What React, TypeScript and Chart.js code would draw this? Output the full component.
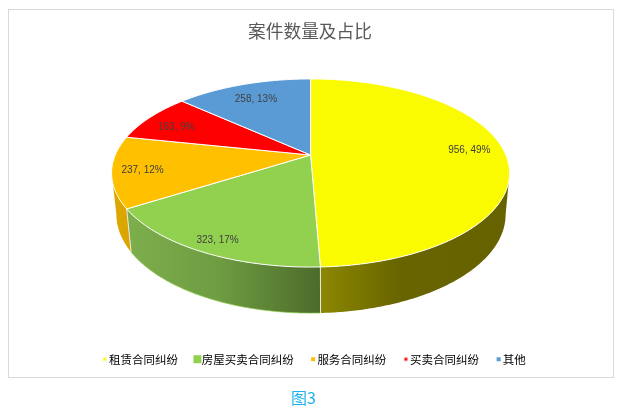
import { useEffect, useRef } from 'react';
import { Chart, registerables } from 'chart.js';

Chart.register(...registerables);

const categories = ['租赁合同纠纷', '房屋买卖合同纠纷', '服务合同纠纷', '买卖合同纠纷', '其他'];
const counts = [956, 323, 237, 163, 258];
const percents = [49, 17, 12, 9, 13];
const colors = ['#FAFA00', '#92D050', '#FFC000', '#FF0000', '#5B9BD5'];
const markerSizes = [3, 8, 4, 3, 4];

// side wall gradients, left to right (x in page px)
const wallStops: any[] = [
  [[320, '#8C8800'], [400, '#686400'], [510, '#666200']],
  [[128, '#7DAE4C'], [220, '#6E9C42'], [320, '#4C6B2A']],
  [[112, '#DDA800'], [132, '#D9A400']],
  [[0, '#B00000'], [1, '#B00000']],
  [[0, '#41719C'], [1, '#41719C']],
];

const labelShift = [[3, -3.5], [-9, 11], [-10, 2], [-4, 2.6], [1, 2]];

// the pie is a true perspective view of a circle
const K = 0.1916;
const top3d = { cx: 310.6, cy: 155, a: 195.3, b: 90.6 };
const bottom3d = { cx: 311, cy: 195.6, a: 191, b: 95 };

// angles where the rim turns away from the viewer, walls only exist between them
const frontStart = Math.acos(-K);
const frontEnd = 2 * Math.PI - frontStart;

const project = (p: any, theta: number, r = 1) => {
  const s = r * Math.sin(theta);
  const c = r * Math.cos(theta);
  const d = 1 + K * c;
  return { x: p.cx + (p.a * s) / d, y: p.cy - (p.b * c) / d };
};

const traceRim = (ctx: any, p: any, t0: number, t1: number) => {
  const steps = Math.max(2, Math.ceil(Math.abs(t1 - t0) / 0.01));
  for (let i = 0; i <= steps; i++) {
    const pt = project(p, t0 + ((t1 - t0) * i) / steps);
    ctx.lineTo(pt.x, pt.y);
  }
};

const pie3d = {
  id: 'pie3d',
  afterLayout(chart: any) {
    // legend sits a little right of the chart centre in the original
    chart.legend.left += 4;
    chart.legend.right += 4;
  },
  beforeDatasetDraw(chart: any) {
    const ctx = chart.ctx;
    const arcs = chart.getDatasetMeta(0).data;
    const spans = arcs.map((arc: any) => [arc.startAngle + Math.PI / 2, arc.endAngle + Math.PI / 2]);

    // walls
    spans.forEach((span: number[], i: number) => {
      const t0 = Math.max(span[0], frontStart);
      const t1 = Math.min(span[1], frontEnd);
      if (t1 <= t0) return;
      const stops = wallStops[i];
      const x0 = stops[0][0];
      const x1 = stops[stops.length - 1][0];
      const grad = ctx.createLinearGradient(x0, 0, x1, 0);
      stops.forEach((st: any) => grad.addColorStop((st[0] - x0) / (x1 - x0), st[1]));
      ctx.beginPath();
      traceRim(ctx, top3d, t0, t1);
      traceRim(ctx, bottom3d, t1, t0);
      ctx.closePath();
      ctx.fillStyle = grad;
      ctx.fill();
    });

    // thin light edge under the green wall
    ctx.beginPath();
    traceRim(ctx, bottom3d, spans[1][0], spans[1][1]);
    ctx.strokeStyle = colors[1];
    ctx.lineWidth = 0.7;
    ctx.stroke();

    // light corners where walls meet
    ctx.strokeStyle = '#E8E8E8';
    ctx.lineWidth = 1;
    [spans[0][1], spans[1][1]].forEach((t) => {
      const a = project(top3d, t);
      const b = project(bottom3d, t);
      ctx.beginPath();
      ctx.moveTo(a.x, a.y);
      ctx.lineTo(b.x, b.y);
      ctx.stroke();
    });

    // top faces
    arcs.forEach((arc: any, i: number) => {
      const [t0, t1] = spans[i];
      ctx.beginPath();
      ctx.moveTo(top3d.cx, top3d.cy);
      traceRim(ctx, top3d, t0, t1);
      ctx.closePath();
      ctx.fillStyle = colors[i];
      ctx.fill();
      ctx.strokeStyle = '#FFFFFF';
      ctx.lineWidth = 1;
      ctx.stroke();
    });

    // data labels
    ctx.font = '10px "Liberation Sans"';
    ctx.fillStyle = '#404040';
    ctx.textAlign = 'center';
    ctx.textBaseline = 'middle';
    arcs.forEach((arc: any, i: number) => {
      const [t0, t1] = spans[i];
      const pt = project(top3d, (t0 + t1) / 2, 0.8);
      ctx.fillText(`${counts[i]}, ${percents[i]}%`, pt.x + labelShift[i][0], pt.y + labelShift[i][1]);
    });
    return false;
  },
};

const makeMarker = (color: string, size: number) => {
  const c = document.createElement('canvas');
  c.width = 20;
  c.height = 12;
  const g = c.getContext('2d') as CanvasRenderingContext2D;
  g.fillStyle = color;
  g.fillRect(10 - size / 2 + 2, 6 - size / 2, size, size);
  return c;
};

const App = () => {
  const canvasRef = useRef<HTMLCanvasElement | null>(null);

  useEffect(() => {
    if (!canvasRef.current) return;
    const chart = new Chart(canvasRef.current, {
      type: 'pie',
      data: {
        labels: categories,
        datasets: [{ data: counts, backgroundColor: colors }],
      },
      options: {
        animation: false,
        responsive: false,
        devicePixelRatio: 1,
        layout: { padding: { bottom: 41 } },
        plugins: {
          title: {
            display: true,
            text: '案件数量及占比',
            color: '#595959',
            font: { family: '"Noto Sans CJK SC"', size: 17.7, weight: 'normal' },
            padding: { top: 21, bottom: 10 },
          },
          legend: {
            position: 'bottom',
            labels: {
              usePointStyle: true,
              boxWidth: 1,
              padding: 17,
              color: '#7F7F7F',
              font: { family: '"Noto Sans CJK SC"', size: 11.5 },
              generateLabels: () =>
                categories.map((name, i) => ({
                  text: name,
                  fillStyle: colors[i],
                  strokeStyle: colors[i],
                  lineWidth: 0,
                  hidden: false,
                  index: i,
                  pointStyle: makeMarker(colors[i], markerSizes[i]),
                })),
            },
          },
          tooltip: { enabled: false },
        },
      } as any,
      plugins: [pie3d],
    });
    return () => {
      chart.destroy();
    };
  }, []);

  return (
    <div style={{ position: 'absolute', left: 0, top: 0, width: 620, height: 416, background: '#fff' }}>
      <div style={{ position: 'absolute', left: 8, top: 9, width: 604, height: 367, border: '1px solid #D9D9D9' }} />
      <canvas ref={canvasRef} width={620} height={416} style={{ position: 'absolute', left: 0, top: 0 }} />
      <div
        style={{
          position: 'absolute',
          left: 0,
          top: 386,
          width: 607,
          textAlign: 'center',
          color: '#1FB2EC',
          font: '16px/22px "Noto Sans CJK SC"',
        }}
      >
        图3
      </div>
    </div>
  );
};

export default App;
